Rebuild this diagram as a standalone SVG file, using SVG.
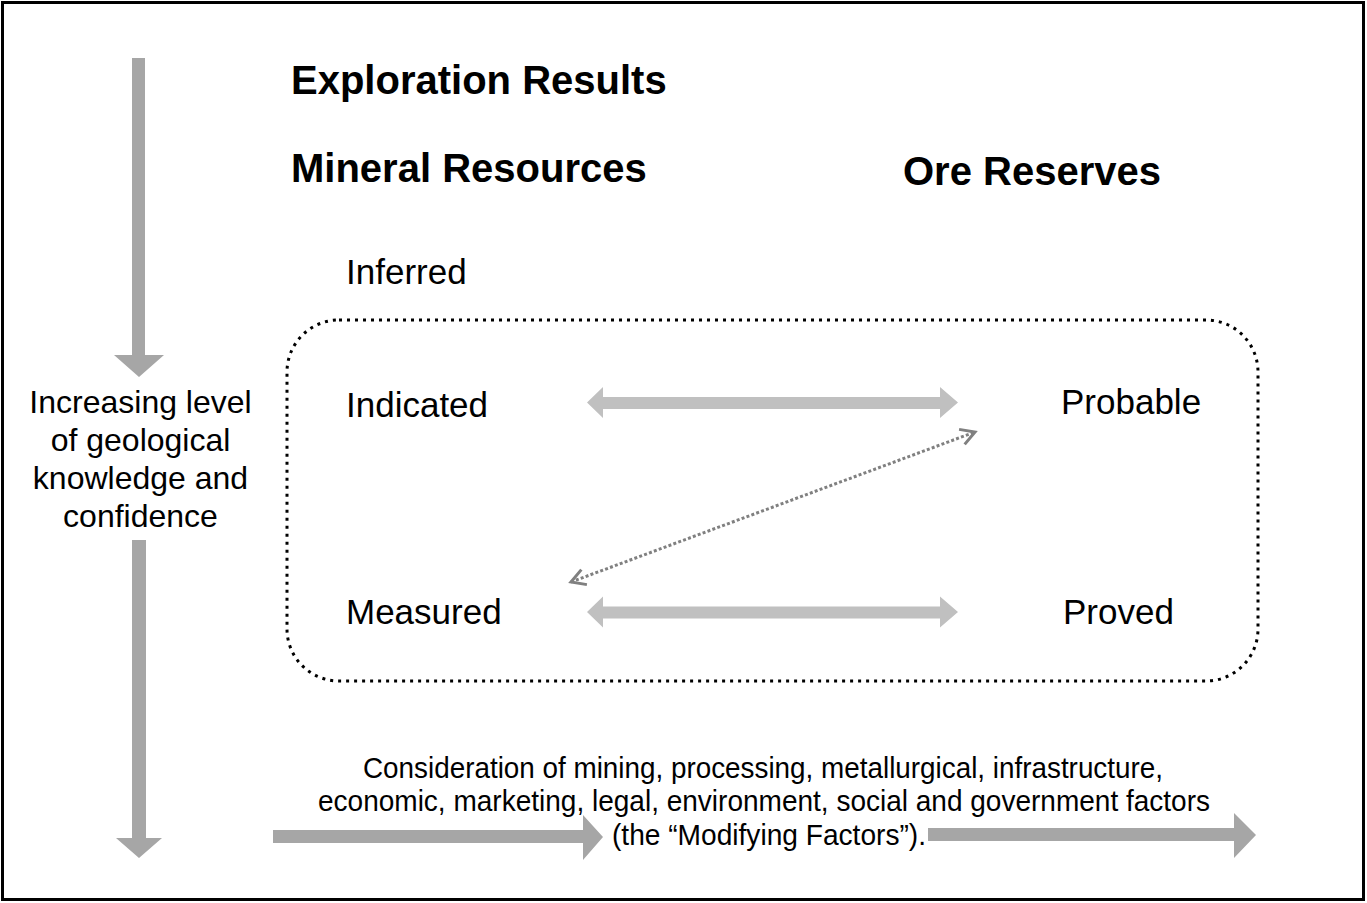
<svg xmlns="http://www.w3.org/2000/svg" width="1367" height="903" viewBox="0 0 1367 903">
<style>
text{font-family:"Liberation Sans",Arial,sans-serif;fill:#000}
.title{font-size:40px;font-weight:bold}
.lbl{font-size:35px}
.side{font-size:32px;text-anchor:middle}
.note{font-size:29px;text-anchor:middle}
.vgray{fill:#a6a6a6}
.hgray{fill:#c0c0c0}
.dotline{stroke:#808080;stroke-width:3;stroke-dasharray:3 2.2;fill:none}
</style>
<defs>
<marker id="chev" markerUnits="userSpaceOnUse" markerWidth="22" markerHeight="22" viewBox="0 0 22 22" refX="19" refY="11" orient="auto-start-reverse">
<path d="M5,3 L19,11 L5,19" fill="none" stroke="#808080" stroke-width="3"/>
</marker>
</defs>
<rect x="2.5" y="2.5" width="1361" height="897" fill="#fff" stroke="#000" stroke-width="3"/>

<g id="confidence-axis">
<polygon class="vgray" points="132,58 145,58 145,355 164,355 139,377 114,355 132,355"/>
<polygon class="vgray" points="132,540 146,540 146,838 162,838 139,858 116,838 132,838"/>
<text class="side" x="140.5" y="413">Increasing level</text>
<text class="side" x="140.5" y="451">of geological</text>
<text class="side" x="140.5" y="489">knowledge and</text>
<text class="side" x="140.5" y="527">confidence</text>
</g>

<g id="exploration-results"><text class="title" x="291" y="94">Exploration Results</text></g>
<g id="mineral-resources"><text class="title" x="291" y="182">Mineral Resources</text></g>
<g id="ore-reserves"><text class="title" x="903" y="185">Ore Reserves</text></g>
<g id="inferred"><text class="lbl" x="346" y="284">Inferred</text></g>

<g id="reserve-box">
<rect x="287" y="320" width="971" height="361" rx="52" ry="52" fill="none" stroke="#000" stroke-width="3" stroke-dasharray="3 5"/>
</g>

<g id="indicated"><text class="lbl" x="346" y="417">Indicated</text></g>
<g id="probable"><text class="lbl" x="1061" y="414">Probable</text></g>
<g id="measured"><text class="lbl" x="346" y="624">Measured</text></g>
<g id="proved"><text class="lbl" x="1063" y="624">Proved</text></g>

<g id="connectors">
<polygon class="hgray" points="587,402.5 603,387 603,397 940,397 940,387 958,402.5 940,418 940,409 603,409 603,418"/>
<polygon class="hgray" points="587,612 603,596.5 603,606.5 940,606.5 940,596.5 958,612 940,627.5 940,618.5 603,618.5 603,627.5"/>
<line class="dotline" x1="571" y1="582" x2="975" y2="432" marker-start="url(#chev)" marker-end="url(#chev)"/>
<polygon class="vgray" points="273,830 583,830 583,815 603,837 583,860 583,843 273,843"/>
<polygon class="vgray" points="928,828 1234,828 1234,813 1256,835 1234,858 1234,841 928,841"/>
</g>

<g id="modifying-factors">
<text class="note" x="763" y="778" textLength="800" lengthAdjust="spacingAndGlyphs">Consideration of mining, processing, metallurgical, infrastructure,</text>
<text class="note" x="764" y="811" textLength="892" lengthAdjust="spacingAndGlyphs">economic, marketing, legal, environment, social and government factors</text>
<text class="note" x="769" y="845" textLength="314" lengthAdjust="spacingAndGlyphs">(the “Modifying Factors”).</text>
</g>
</svg>
